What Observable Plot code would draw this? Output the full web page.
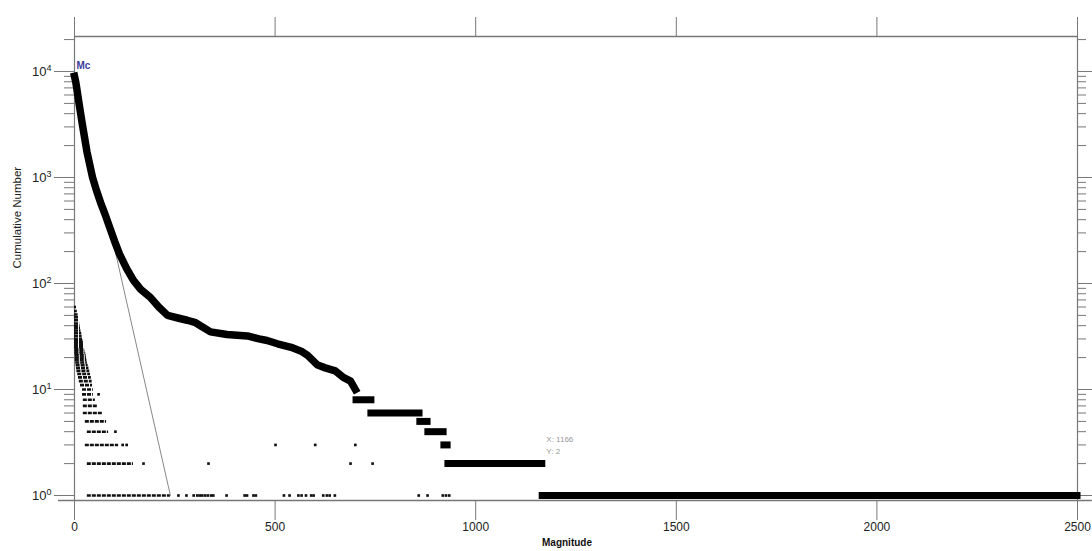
<!DOCTYPE html>
<html><head><meta charset="utf-8">
<script src="https://cdn.jsdelivr.net/npm/d3@7"></script>
<script src="https://cdn.jsdelivr.net/npm/@observablehq/plot@0.6"></script>
<style>body{margin:0;background:#fff}</style>
</head><body><div id="chart"></div>
<script>
// Cumulative number (smooth part)
const cumMag = [0, 3, 6, 12, 20, 31, 45, 55, 65, 77, 90, 100, 112, 130, 147, 165, 189, 210, 232, 260, 281, 300, 314, 339, 380, 431, 460, 480, 506, 540, 565, 581, 606, 625, 650, 670, 688, 700];
const cumN   = [9000, 8000, 6800, 4800, 3100, 1750, 1000, 750, 580, 440, 320, 250, 190, 138, 107, 88, 74, 60, 50, 47, 45, 43, 40, 35, 33, 32, 30, 29, 27, 25, 23, 21, 17, 16, 15, 13, 12, 10];
// Cumulative number (flat steps)
const stepN    = [8, 6, 5, 4, 3, 2, 1];
const stepFrom = [703, 740, 862, 882, 922, 932, 1167];
const stepTo   = [740, 860, 880, 920, 930, 1166, 2500];
// Gutenberg-Richter fit line (visible part)
const fitMag = [92, 239];
const fitN   = [290, 1];
// Non-cumulative counts: dense runs per count level
const bandN    = [1, 2, 3, 4, 5, 6, 7, 8, 9, 10, 11, 12, 13, 14, 15, 16, 17, 18, 19, 20, 21, 22, 23, 24, 25, 26, 27, 28, 29, 30, 32, 34, 36, 38, 40, 42, 45, 48, 51, 55, 60];
const bandFrom = [32, 32, 27, 32, 27, 22, 22, 22, 20, 20, 15, 12, 10, 8, 6, 5, 4, 3, 2, 2, 2, 1, 1, 1, 0, 0, 0, 0, 0, 0, 0, 0, 0, 0, 0, 0, 0, 0, 0, 0, 0];
const bandTo   = [239, 147, 110, 85, 80, 70, 57, 52, 47, 47, 45, 44, 42, 40, 38, 36, 34, 32, 31, 30, 29, 28, 27, 26, 25, 24, 23, 22, 21, 20, 19, 18, 16, 15, 14, 13, 11, 10, 9, 7, 5];
// Non-cumulative counts: isolated points
const dotMag = [259, 279, 297, 306, 312, 318, 325, 332, 340, 346, 379, 424, 430, 446, 452, 522, 536, 558, 566, 577, 590, 596, 620, 629, 636, 649, 858, 880, 918, 926, 934,
                172, 334, 688, 743,
                120, 130, 501, 600, 700,
                102, 60];
const dotN   = [1, 1, 1, 1, 1, 1, 1, 1, 1, 1, 1, 1, 1, 1, 1, 1, 1, 1, 1, 1, 1, 1, 1, 1, 1, 1, 1, 1, 1, 1, 1,
                2, 2, 2, 2,
                3, 3, 3, 3, 3,
                4, 9];
const xTicks = [0, 500, 1000, 1500, 2000, 2500];
const yTicks = [1, 10, 100, 1000, 10000];
const yMinor = yTicks.flatMap(d => [2,3,4,5,6,7,8,9].map(k => k * d)).filter(v => v < 21000);

const yDomain = [0.8972, 21380];
const bands = bandN.map((n, i) => ({n, a: bandFrom[i], b: bandTo[i]}));
const steps = stepN.map((n, i) => ({n, a: stepFrom[i], b: stepTo[i]}));
const cum = cumMag.map((m, i) => ({m, n: cumN[i]}));
const fit = fitMag.map((m, i) => ({m, n: fitN[i]}));
const dots = dotMag.map((m, i) => ({m, n: dotN[i]}));

const axisCol = "#777";
const chart = Plot.plot({
  width: 1092, height: 551,
  marginLeft: 74, marginRight: 15, marginTop: 36, marginBottom: 51,
  style: {fontFamily: "'Liberation Sans', Arial, sans-serif", fontSize: "12px", background: "#fff", overflow: "visible", color: "#222"},
  x: {domain: [0, 2500]},
  y: {type: "log", domain: yDomain},
  marks: [
    // frame lines
    Plot.ruleY([yDomain[1]], {stroke: axisCol, strokeWidth: 1.5}),
    Plot.ruleY([yDomain[0]], {x1: -40, x2: 2537, stroke: axisCol, strokeWidth: 1.5}),
    Plot.ruleX([0, 2500], {stroke: axisCol, strokeWidth: 1.2}),
    // axes
    Plot.axisX({anchor: "bottom", ticks: xTicks, tickSize: 20, tickPadding: 2, stroke: axisCol, fill: "#222", label: null, fontSize: 12, tickFormat: d => String(d)}),
    Plot.axisX({anchor: "top", ticks: xTicks, tickSize: 20, tickFormat: () => "", stroke: axisCol, label: null}),
    Plot.axisY({anchor: "left", ticks: yTicks, tickSize: 20, tickPadding: 3, stroke: axisCol, fill: "#222", label: null, fontSize: 13,
                tickFormat: d => "10^" + Math.round(Math.log10(d))}),
    Plot.axisY({anchor: "left", ticks: yMinor, tickSize: 10, tickFormat: () => "", stroke: axisCol, label: null}),
    Plot.axisY({anchor: "right", ticks: yTicks, tickSize: 14, tickFormat: () => "", stroke: axisCol, label: null}),
    Plot.axisY({anchor: "right", ticks: yMinor, tickSize: 8, tickFormat: () => "", stroke: axisCol, label: null}),
    // non-cumulative counts
    Plot.ruleY(bands, {y: "n", x1: "a", x2: "b", stroke: "#111", strokeWidth: 2.6, strokeDasharray: "4,1"}),
    Plot.dot(dots, {x: "m", y: "n", symbol: "square", r: 1.5, fill: "#111", stroke: null}),
    // fit line
    Plot.line(fit, {x: "m", y: "n", stroke: "#888", strokeWidth: 1}),
    // cumulative
    Plot.line(cum, {x: "m", y: "n", stroke: "#000", strokeWidth: 7.5, strokeLinejoin: "round", strokeLinecap: "square"}),
    Plot.ruleY(steps, {y: "n", x1: "a", x2: "b", stroke: "#000", strokeWidth: 7, strokeLinecap: "square"}),
    // labels
    Plot.text(["Mc"], {x: [0], y: [11400], dx: 2, textAnchor: "start", fill: "#3a3a9a", fontSize: 10, fontWeight: "bold"}),
    Plot.text(["X: 1166\nY: 2"], {x: [1166], y: [2], dx: 4, dy: -10, textAnchor: "start", lineAnchor: "bottom", lineHeight: 1.5, fill: "#999", fontSize: 8}),
    Plot.text(["Magnitude"], {frameAnchor: "bottom", dx: -9, dy: 45, fontWeight: "bold", fontSize: 10, fill: "#111"}),
    Plot.text(["Cumulative Number"], {frameAnchor: "left", rotate: -90, dx: -57, fontSize: 11.5, fill: "#222"})
  ]
});
document.getElementById("chart").appendChild(chart);
d3.select(chart).selectAll('g[aria-label="y-axis tick label"] text').each(function () {
  const t = this.textContent;
  if (t.startsWith("10^")) {
    const e = t.slice(3);
    this.textContent = "10";
    d3.select(this).append("tspan").attr("dy", "-0.55em").attr("font-size", "9px").text(e);
  }
});
</script>
</body></html>
